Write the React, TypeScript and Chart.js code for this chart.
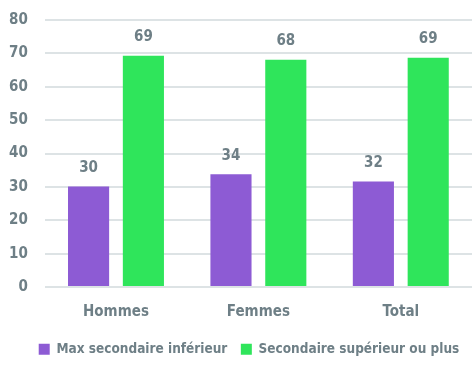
import React, { useEffect, useRef } from "react";
import { Chart, registerables } from "chart.js";

Chart.register(...registerables);

const categories = ["Hommes", "Femmes", "Total"];
const seriesLabels = ["Max secondaire inférieur", "Secondaire supérieur ou plus"];
const lowerValues = [30.1, 33.8, 31.6];
const upperValues = [69.3, 68.1, 68.7];
const lowerLabels = ["30", "34", "32"];
const upperLabels = ["69", "68", "69"];

const FONT = "'DejaVu Sans Condensed', sans-serif";
const GREY = "#6e7f86";

const dataLabelPlugin = {
  id: "dataLabels",
  afterDatasetsDraw(chart: any) {
    const ctx = chart.ctx;
    ctx.save();
    ctx.font = `bold 15px ${FONT}`;
    ctx.fillStyle = GREY;
    ctx.textAlign = "center";
    ctx.textBaseline = "bottom";
    chart.data.datasets.forEach((ds: any, di: number) => {
      const meta = chart.getDatasetMeta(di);
      const texts = di === 0 ? lowerLabels : upperLabels;
      meta.data.forEach((bar: any, i: number) => {
        ctx.fillText(texts[i], bar.x, bar.y - 11);
      });
    });
    ctx.restore();
  },
};

const legendShiftPlugin = {
  id: "legendShift",
  afterLayout(chart: any) {
    if (chart.legend) {
      chart.legend.left += 17;
      chart.legend.right += 17;
    }
  },
};

export default function App() {
  const ref = useRef<HTMLCanvasElement>(null);
  useEffect(() => {
    const chart = new Chart(ref.current!, {
      type: "bar",
      data: {
        labels: categories,
        datasets: [
          { label: seriesLabels[0], data: lowerValues, backgroundColor: "#8d5bd4" },
          { label: seriesLabels[1], data: upperValues, backgroundColor: "#2fe55b" },
        ],
      },
      options: {
        animation: false,
        responsive: true,
        maintainAspectRatio: false,
        layout: { padding: { left: -8, right: 2, top: 20, bottom: 9 } },
        datasets: {
          bar: { barPercentage: 0.75, categoryPercentage: 0.77 },
        } as any,
        scales: {
          x: {
            grid: { display: false },
            border: { display: false },
            ticks: { color: GREY, font: { family: FONT, size: 15, weight: "bold" }, padding: 8 },
          },
          y: {
            min: 0,
            max: 80,
            border: { display: false },
            grid: { color: "#dde3e5", lineWidth: 2, drawTicks: false },
            afterFit: (scale: any) => {
              scale.paddingTop = 9;
            },
            ticks: {
              stepSize: 10,
              color: GREY,
              padding: 17,
              font: { family: FONT, size: 15, weight: "bold" },
            },
          },
        },
        plugins: {
          tooltip: { enabled: false },
          legend: {
            position: "bottom",
            labels: {
              color: GREY,
              font: { family: FONT, size: 13.5, weight: "bold" },
              boxWidth: 11,
              boxHeight: 11,
              padding: 13.5,
            },
          },
        },
      },
      plugins: [dataLabelPlugin, legendShiftPlugin],
    });
    return () => chart.destroy();
  }, []);
  return (
    <div style={{ position: "fixed", left: 0, top: 0, width: 474, height: 375 }}>
      <canvas ref={ref} />
    </div>
  );
}
